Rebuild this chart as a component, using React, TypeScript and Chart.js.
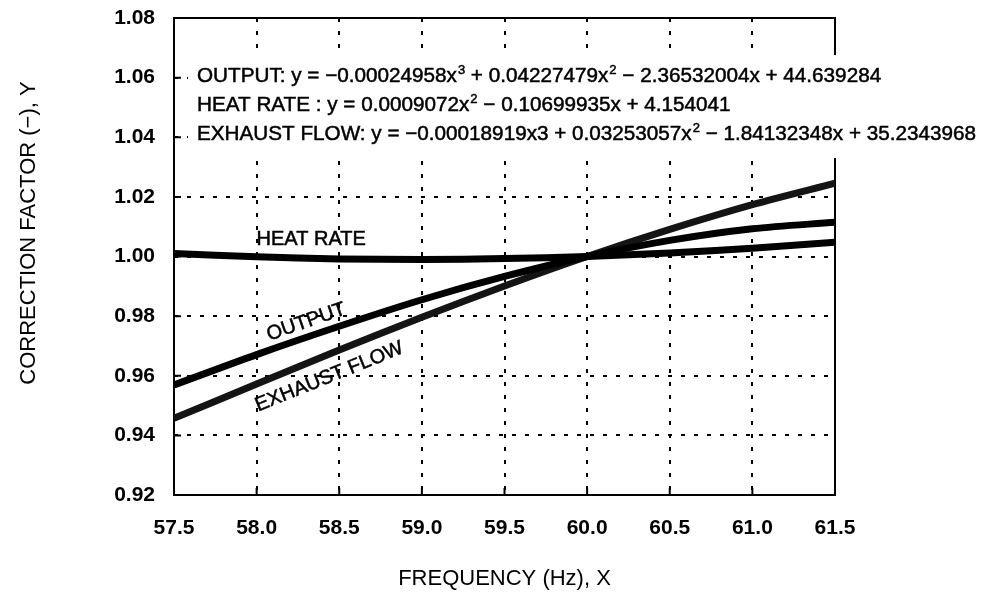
import React, { useEffect, useRef } from "react";
import { Chart, registerables } from "chart.js";

Chart.register(...registerables);

// Frequency (Hz) at which each correction factor is read
const frequencies = [57.5, 58.0, 58.5, 59.0, 59.5, 60.0, 60.5, 61.0, 61.5];

// Correction factors per curve
const outputFactor = [0.9569, 0.9671, 0.9766, 0.9855, 0.9933, 1.0, 1.0054, 1.0093, 1.0115];
const heatRateFactor = [1.001, 0.9999, 0.9992, 0.999, 0.9993, 1.0, 1.0012, 1.0028, 1.0048];
const exhaustFlowFactor = [0.9457, 0.9572, 0.9686, 0.9796, 0.9901, 1.0, 1.0091, 1.0174, 1.0246];

// Axis ranges and tick spacing
const xRange = [57.5, 61.5];
const xStep = 0.5;
const yRange = [0.92, 1.08];
const yStep = 0.02;

const xTitle = "FREQUENCY (Hz), X";
const yTitle = "CORRECTION FACTOR (\u2212), Y";

// Fitted equations; each part is [text, isSuperscript]
const equationLines: [string, boolean][][] = [
  [
    ["OUTPUT: y = \u22120.00024958x", false],
    ["3", true],
    [" + 0.04227479x", false],
    ["2", true],
    [" \u2212 2.36532004x + 44.639284", false],
  ],
  [
    ["HEAT RATE : y = 0.0009072x", false],
    ["2", true],
    [" \u2212 0.10699935x + 4.154041", false],
  ],
  [
    ["EXHAUST FLOW: y = \u22120.00018919x3 + 0.03253057x", false],
    ["2", true],
    [" \u2212 1.84132348x + 35.2343968", false],
  ],
];

// In-plot curve names: [text, x (Hz), y (factor), rotation in degrees]
const curveLabels: [string, number, number, number][] = [
  ["HEAT RATE", 58.33, 1.0057, 0],
  ["OUTPUT", 58.3, 0.978, -19],
  ["EXHAUST FLOW", 58.44, 0.9596, -22],
];

const FONT = "'Liberation Sans', Arial, sans-serif";

// Fill text with a faint outline so it reads a little heavier
function heavyText(ctx: CanvasRenderingContext2D, text: string, x: number, y: number) {
  ctx.fillText(text, x, y);
  ctx.strokeText(text, x, y);
}

const decorations = {
  id: "decorations",
  beforeDatasetsDraw(chart: any) {
    const { ctx, chartArea: a, scales } = chart;
    ctx.save();
    ctx.strokeStyle = "#000";
    ctx.lineWidth = 2;
    ctx.strokeRect(a.left, a.top, a.right - a.left, a.bottom - a.top);
    // inward tick marks on the left and bottom axes
    ctx.beginPath();
    scales.y.ticks.forEach((t: any) => {
      const y = scales.y.getPixelForValue(t.value);
      ctx.moveTo(a.left, y);
      ctx.lineTo(a.left + 7, y);
    });
    scales.x.ticks.forEach((t: any) => {
      const x = scales.x.getPixelForValue(t.value);
      ctx.moveTo(x, a.bottom);
      ctx.lineTo(x, a.bottom - 7);
    });
    ctx.stroke();
    ctx.restore();
  },
  afterDatasetsDraw(chart: any) {
    const { ctx, chartArea: a, scales } = chart;
    ctx.save();
    ctx.fillStyle = "#000";
    ctx.strokeStyle = "#000";
    ctx.lineWidth = 0.5;

    // curve names
    ctx.font = `20px ${FONT}`;
    ctx.textAlign = "center";
    ctx.textBaseline = "middle";
    curveLabels.forEach(([text, xv, yv, rot]) => {
      const px = scales.x.getPixelForValue(xv);
      const py = scales.y.getPixelForValue(yv);
      ctx.save();
      ctx.translate(px, py);
      ctx.rotate((rot * Math.PI) / 180);
      heavyText(ctx, text, 0, 0);
      ctx.restore();
    });

    // equation block on a white panel
    const boxLeft = a.left + 14;
    const boxTop = a.top + 37;
    ctx.fillStyle = "#fff";
    ctx.fillRect(boxLeft, boxTop, chart.width - boxLeft, 103);
    ctx.fillStyle = "#000";
    ctx.textAlign = "left";
    ctx.textBaseline = "alphabetic";
    equationLines.forEach((parts, i) => {
      let x = a.left + 23;
      const base = a.top + 64 + i * 29;
      parts.forEach(([text, sup]) => {
        if (sup) {
          ctx.font = `13px ${FONT}`;
          heavyText(ctx, text, x + 1, base - 8);
          x += ctx.measureText(text).width + 1;
        } else {
          ctx.font = `20.7px ${FONT}`;
          heavyText(ctx, text, x, base);
          x += ctx.measureText(text).width;
        }
      });
    });

    // axis titles
    ctx.font = `22px ${FONT}`;
    ctx.textAlign = "center";
    ctx.fillText(xTitle, (a.left + a.right) / 2, 585);
    ctx.save();
    ctx.translate(35, 233);
    ctx.rotate(-Math.PI / 2);
    ctx.fillText(yTitle, 0, 0);
    ctx.restore();
    ctx.restore();
  },
};

function makeSeries(values: number[]) {
  return frequencies.map((f, i) => ({ x: f, y: values[i] }));
}

export default function App() {
  const canvasRef = useRef<HTMLCanvasElement | null>(null);

  useEffect(() => {
    if (!canvasRef.current) return;
    const lineStyle = {
      borderColor: "#000",
      borderWidth: 7,
      pointRadius: 0,
      tension: 0.3,
      fill: false,
    };
    const gridStyle = { color: "#000", lineWidth: 2, drawTicks: false };
    const tickFont = { family: FONT, size: 21, weight: "bold" as const };

    const chart = new Chart(canvasRef.current, {
      type: "line",
      data: {
        datasets: [
          { label: "OUTPUT", data: makeSeries(outputFactor), ...lineStyle },
          { label: "HEAT RATE", data: makeSeries(heatRateFactor), ...lineStyle },
          { label: "EXHAUST FLOW", data: makeSeries(exhaustFlowFactor), ...lineStyle, borderColor: "#141414" },
        ],
      },
      options: {
        responsive: false,
        animation: false,
        events: [],
        layout: { padding: { top: 18, right: 152, left: 0, bottom: 0 } },
        plugins: { legend: { display: false }, tooltip: { enabled: false } },
        scales: {
          x: {
            type: "linear",
            min: xRange[0],
            max: xRange[1],
            grid: gridStyle,
            border: { display: false, dash: [4, 9] },
            ticks: {
              stepSize: xStep,
              padding: 21,
              color: "#000",
              font: tickFont,
              maxRotation: 0,
              callback: (v: any) => Number(v).toFixed(1),
            },
            afterFit: (s: any) => {
              s.height = 104;
            },
          },
          y: {
            type: "linear",
            min: yRange[0],
            max: yRange[1],
            grid: gridStyle,
            border: { display: false, dash: [4, 9] },
            ticks: {
              stepSize: yStep,
              padding: 19,
              color: "#000",
              font: tickFont,
              callback: (v: any) => Number(v).toFixed(2),
            },
            afterFit: (s: any) => {
              s.width = 174;
              // only half a label of overhang is needed above and below
              s.paddingTop = 12;
              s.paddingBottom = 12;
            },
          },
        },
      },
      plugins: [decorations],
    });
    return () => chart.destroy();
  }, []);

  return (
    <div style={{ position: "fixed", left: 0, top: 0, width: 987, height: 599, background: "#fff" }}>
      <canvas ref={canvasRef} width={987} height={599} />
    </div>
  );
}
